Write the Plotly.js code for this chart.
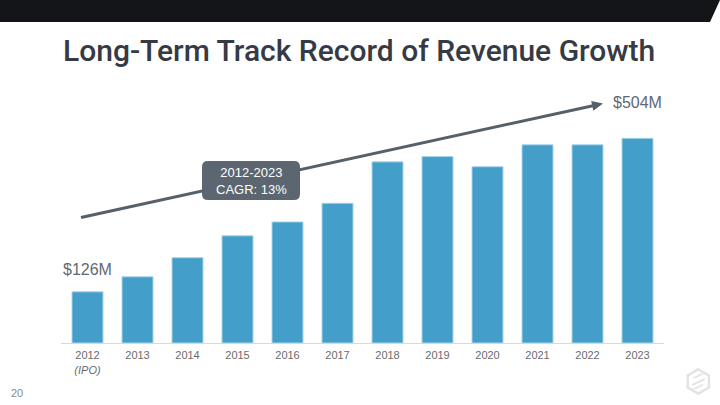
<!DOCTYPE html>
<html>
<head>
<meta charset="utf-8">
<script src="https://cdn.plot.ly/plotly-3.0.1.min.js"></script>
<style>
  html, body { margin: 0; padding: 0; background: #ffffff; }
  #chart { width: 720px; height: 405px; }
</style>
</head>
<body>
<div id="chart"></div>
<script>
// ---- Data ----
const years = ["2012", "2013", "2014", "2015", "2016", "2017", "2018", "2019", "2020", "2021", "2022", "2023"];
const revenue = [126, 163, 210, 264, 298, 344, 446, 459, 434, 488, 488, 504];
const tickLabels = ["2012<br><i>(IPO)</i>", "2013", "2014", "2015", "2016", "2017", "2018", "2019", "2020", "2021", "2022", "2023"];
const startLabel = "$126M";
const endLabel = "$504M";
const cagrLabel = "2012-2023<br>CAGR: 13%";
const titleText = "Long-Term Track Record of Revenue Growth";
const pageNumber = "20";

// ---- Layout geometry (pixels) ----
const L = 61, R = 56, T = 100, B = 62;
const W = 720 - L - R, H = 405 - T - B;
const px = v => (v - L) / W;
const py = v => (T + H - v) / H;
const yMax = 598.3;

// helpers for paper-space paths
function pathFrom(points, close) {
  return points.map((p, i) => (i ? "L" : "M") + px(p[0]).toFixed(5) + "," + py(p[1]).toFixed(5)).join(" ") + (close ? " Z" : "");
}
function roundRect(x0, y0, x1, y1, r) {
  const f = (a, b) => px(a).toFixed(5) + "," + py(b).toFixed(5);
  return "M" + f(x0 + r, y0) + " L" + f(x1 - r, y0) + " Q" + f(x1, y0) + " " + f(x1, y0 + r) +
         " L" + f(x1, y1 - r) + " Q" + f(x1, y1) + " " + f(x1 - r, y1) +
         " L" + f(x0 + r, y1) + " Q" + f(x0, y1) + " " + f(x0, y1 - r) +
         " L" + f(x0, y0 + r) + " Q" + f(x0, y0) + " " + f(x0 + r, y0) + " Z";
}

// trend arrow geometry
const S = [81, 217.5], P = [603, 103.5];
const dx = P[0] - S[0], dy = P[1] - S[1], len = Math.hypot(dx, dy);
const u = [dx / len, dy / len], n = [-u[1], u[0]];
const headL = 11, headW = 5;
const base = [P[0] - headL * u[0], P[1] - headL * u[1]];
const lineEnd = [P[0] - 8 * u[0], P[1] - 8 * u[1]];

// logo hexagon
const cx = 698.3, cy = 381.5, rr = 12.2;
const hex = [];
for (let i = 0; i < 6; i++) {
  const a = Math.PI / 180 * (60 * i - 90);
  hex.push([cx + rr * Math.cos(a), cy + rr * Math.sin(a)]);
}

const shapes = [
  // header banner
  { type: "path", xref: "paper", yref: "paper", layer: "below",
    path: pathFrom([[0, 0], [720, 0], [710, 22], [0, 22]], true),
    fillcolor: "#141519", line: { width: 0 } },
  // trend line
  { type: "path", xref: "paper", yref: "paper",
    path: pathFrom([S, lineEnd], false),
    line: { color: "#56606a", width: 3 } },
  // arrow head
  { type: "path", xref: "paper", yref: "paper",
    path: pathFrom([P, [base[0] + headW * n[0], base[1] + headW * n[1]], [base[0] - headW * n[0], base[1] - headW * n[1]]], true),
    fillcolor: "#56606a", line: { width: 0 } },
  // CAGR box
  { type: "path", xref: "paper", yref: "paper",
    path: roundRect(202, 161, 300, 200, 6),
    fillcolor: "#5b6670", line: { width: 0 } },
  // logo hexagon
  { type: "path", xref: "paper", yref: "paper",
    path: pathFrom(hex, true),
    fillcolor: "rgba(0,0,0,0)", line: { color: "#e3e3e3", width: 2.5 } },
  // logo stripes
  { type: "path", xref: "paper", yref: "paper",
    path: pathFrom([[692, 378], [701, 373.5], [705, 373.5], [696, 378]], true),
    fillcolor: "#e3e3e3", line: { width: 0 } },
  { type: "path", xref: "paper", yref: "paper",
    path: pathFrom([[692, 389], [701, 384.5], [705, 384.5], [696, 389]], true),
    fillcolor: "#e3e3e3", line: { width: 0 } },
  { type: "path", xref: "paper", yref: "paper",
    path: pathFrom([[692, 384], [703.5, 378.5], [705, 378.5], [705, 380], [693.5, 385.5], [692, 385.5]], true),
    fillcolor: "#e3e3e3", line: { width: 0 } }
];

const annotations = [
  { text: startLabel, xref: "x", yref: "y", x: 0, y: revenue[0], xanchor: "center", yanchor: "bottom",
    xshift: 0, yshift: 12, showarrow: false,
    font: { family: "Liberation Sans, Arial, sans-serif", size: 16, color: "#5f6873" } },
  { text: endLabel, xref: "x", yref: "y", x: years.length - 1, y: revenue[revenue.length - 1], xanchor: "center", yanchor: "bottom",
    yshift: 25, showarrow: false,
    font: { family: "Liberation Sans, Arial, sans-serif", size: 16, color: "#5f6873" } },
  { text: cagrLabel, xref: "paper", yref: "paper", x: px(251), y: py(180.5), xanchor: "center", yanchor: "middle",
    showarrow: false, font: { family: "Liberation Sans, Arial, sans-serif", size: 13, color: "#ffffff" } },
  { text: titleText, xref: "paper", yref: "paper", x: px(61), y: py(51), xanchor: "left", yanchor: "middle",
    showarrow: false, font: { family: "Roboto, sans-serif", size: 30, weight: 500, color: "#363a45" } },
  { text: pageNumber, xref: "paper", yref: "paper", x: px(9), y: py(393), xanchor: "left", yanchor: "middle",
    showarrow: false, font: { family: "Liberation Sans, Arial, sans-serif", size: 11, color: "#8a8a8a" } }
];

const trace = {
  type: "bar",
  x: years,
  y: revenue,
  marker: { color: "#439eca", line: { color: "#a8d4ea", width: 1 } },
  hoverinfo: "skip"
};

const layout = {
  width: 720, height: 405,
  margin: { l: L, r: R, t: T, b: B, pad: 0 },
  paper_bgcolor: "#ffffff", plot_bgcolor: "#ffffff",
  showlegend: false,
  bargap: 0.38,
  xaxis: {
    type: "category",
    tickvals: years, ticktext: tickLabels,
    showline: true, linecolor: "#d9d9d9", linewidth: 1,
    showgrid: false, zeroline: false, ticks: "",
    ticklabelstandoff: 2,
    tickfont: { family: "Liberation Sans, Arial, sans-serif", size: 11, color: "#6b6b6b" },
    fixedrange: true
  },
  yaxis: {
    range: [0, yMax], visible: false, showgrid: false, zeroline: false, fixedrange: true
  },
  shapes: shapes,
  annotations: annotations
};

Plotly.newPlot("chart", [trace], layout, { staticPlot: true, displayModeBar: false });
</script>
</body>
</html>
